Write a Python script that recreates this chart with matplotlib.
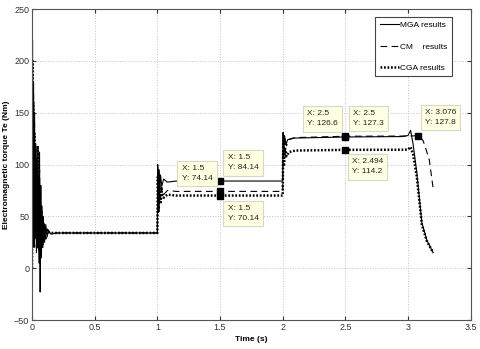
import matplotlib.pyplot as plt

plt.rcParams['font.family'] = ['Liberation Sans', 'DejaVu Sans']

# MGA results (solid)
mga_t = [0, 0.004, 0.008, 0.012, 0.016, 0.02, 0.025, 0.03, 0.035, 0.04, 0.045, 0.05, 0.055,
         0.06, 0.065, 0.07, 0.075, 0.08, 0.085, 0.09, 0.1, 0.11, 0.12, 0.13, 0.15, 0.2,
         1.0, 1.003, 1.008, 1.012, 1.018, 1.025, 1.035, 1.05, 1.08, 1.15,
         2.0, 2.003, 2.008, 2.015, 2.025, 2.04, 2.08, 2.5, 2.95, 3.0, 3.02, 3.04, 3.07, 3.11, 3.15, 3.2]
mga_te = [0, 220, 40, 180, 20, 150, 30, 120, 15, 100, 20, 90, 5,
          112, -23, 80, 10, 60, 20, 50, 25, 42, 30, 37, 33, 34,
          34, 100, 62, 95, 72, 90, 79, 86, 83, 84.1,
          84.1, 131, 112, 128, 119, 124, 125.5, 126.6, 127, 128, 133, 120, 92, 44, 27, 15]

# CM results (dashed)
cm_t = [0, 0.004, 0.008, 0.012, 0.016, 0.02, 0.025, 0.03, 0.035, 0.04, 0.045, 0.05, 0.055,
        0.06, 0.07, 0.08, 0.09, 0.1, 0.11, 0.12, 0.14, 0.2,
        1.0, 1.004, 1.01, 1.016, 1.024, 1.035, 1.05, 1.08, 1.15,
        2.0, 2.004, 2.01, 2.018, 2.03, 2.05, 2.1, 2.5, 3.0, 3.076, 3.1, 3.12, 3.14, 3.17, 3.2]
cm_te = [0, 195, 50, 170, 25, 140, 35, 115, 20, 105, 25, 85, 15,
         95, 20, 55, 22, 45, 28, 38, 33, 34,
         34, 92, 58, 84, 66, 78, 71, 75, 74.1,
         74.1, 129, 108, 126, 118, 124, 126, 127.3, 127.5, 127.8, 126, 123, 116, 104, 77]

# CGA results (dotted)
cga_t = [0, 0.003, 0.006, 0.01, 0.014, 0.018, 0.022, 0.027, 0.032, 0.037, 0.042, 0.045,
         0.05, 0.055, 0.06, 0.065, 0.07, 0.075, 0.08, 0.09, 0.1, 0.12, 0.15, 0.2,
         1.0, 1.004, 1.01, 1.016, 1.024, 1.035, 1.05, 1.08, 1.15,
         2.0, 2.004, 2.01, 2.018, 2.03, 2.05, 2.1, 2.494, 2.95, 3.0, 3.02, 3.04, 3.07, 3.11, 3.15, 3.2]
cga_te = [0, 200, 30, 160, 25, 130, 35, 105, 28, 95, 30, 118,
          20, 80, 25, 60, 28, 48, 30, 40, 32, 35, 34, 34,
          34, 88, 55, 80, 62, 74, 68, 71, 70.1,
          70.1, 120, 100, 116, 108, 112, 113.5, 114.2, 114.3, 114.5, 117, 110, 88, 42, 26, 15]

# data tips: (x, y, label, offset in px)
tip_x = [1.5, 1.5, 1.5, 2.5, 2.5, 2.494, 3.076]
tip_y = [74.14, 84.14, 70.14, 126.6, 127.3, 114.2, 127.8]
tip_txt = ['X: 1.5\nY: 74.14', 'X: 1.5\nY: 84.14', 'X: 1.5\nY: 70.14',
           'X: 2.5\nY: 126.6', 'X: 2.5\nY: 127.3', 'X: 2.494\nY: 114.2',
           'X: 3.076\nY: 127.8']
tip_off = [(-23, 18), (23, 18), (23, -18), (-23, 18), (23, 18), (23, -17), (23, 18)]

fig = plt.figure(figsize=(4.8, 3.49), dpi=100)
ax = fig.add_axes([0.0667, 0.083, 0.914, 0.891])

ax.plot(mga_t, mga_te, '-', color='black', lw=0.8, label='MGA results')
ax.plot(cm_t, cm_te, '--', color='black', lw=0.8, dashes=(6, 4), label='CM    results')
ax.plot(cga_t, cga_te, ':', color='black', lw=1.8, dashes=(0.7, 0.7), label='CGA results')

for x, y, txt, off in zip(tip_x, tip_y, tip_txt, tip_off):
    ax.plot(x, y, 's', color='black', ms=4, zorder=5)
    ax.annotate(txt, (x, y), xytext=(off[0] * 0.72, off[1] * 0.72),
                textcoords='offset points', ha='center', va='center',
                multialignment='left', fontsize=6, color='#222222', linespacing=1.6,
                bbox=dict(boxstyle='square,pad=0.5', fc='#ffffe1', ec='#d8d8c8', lw=0.8),
                zorder=6)

ax.set_xlim(0, 3.5)
ax.set_ylim(-50, 250)
ax.set_xticks([0, 0.5, 1, 1.5, 2, 2.5, 3, 3.5])
ax.set_xticklabels(['0', '0.5', '1', '1.5', '2', '2.5', '3', '3.5'])
ax.set_yticks([-50, 0, 50, 100, 150, 200, 250])
ax.grid(True, linestyle=':', color='#c4c4c4', lw=0.7)
ax.tick_params(labelsize=6.5, colors='#333333', direction='in', length=3,
               top=True, right=True, pad=2)
for s in ax.spines.values():
    s.set_color('#555555')
    s.set_linewidth(0.8)

ax.set_xlabel('Time (s)', fontsize=6, fontweight='bold', labelpad=3)
ax.set_ylabel('Electromagnetic torque Te (Nm)', fontsize=6, fontweight='bold', labelpad=3)

leg = ax.legend(loc='upper right', bbox_to_anchor=(0.957, 0.974), fontsize=6,
                handlelength=2.3, handletextpad=0.2, labelspacing=1.65,
                borderpad=0.5, borderaxespad=0, fancybox=False, framealpha=1)
leg.get_frame().set_edgecolor('#444444')
leg.get_frame().set_linewidth(0.8)

fig.savefig('out.png', dpi=100)
